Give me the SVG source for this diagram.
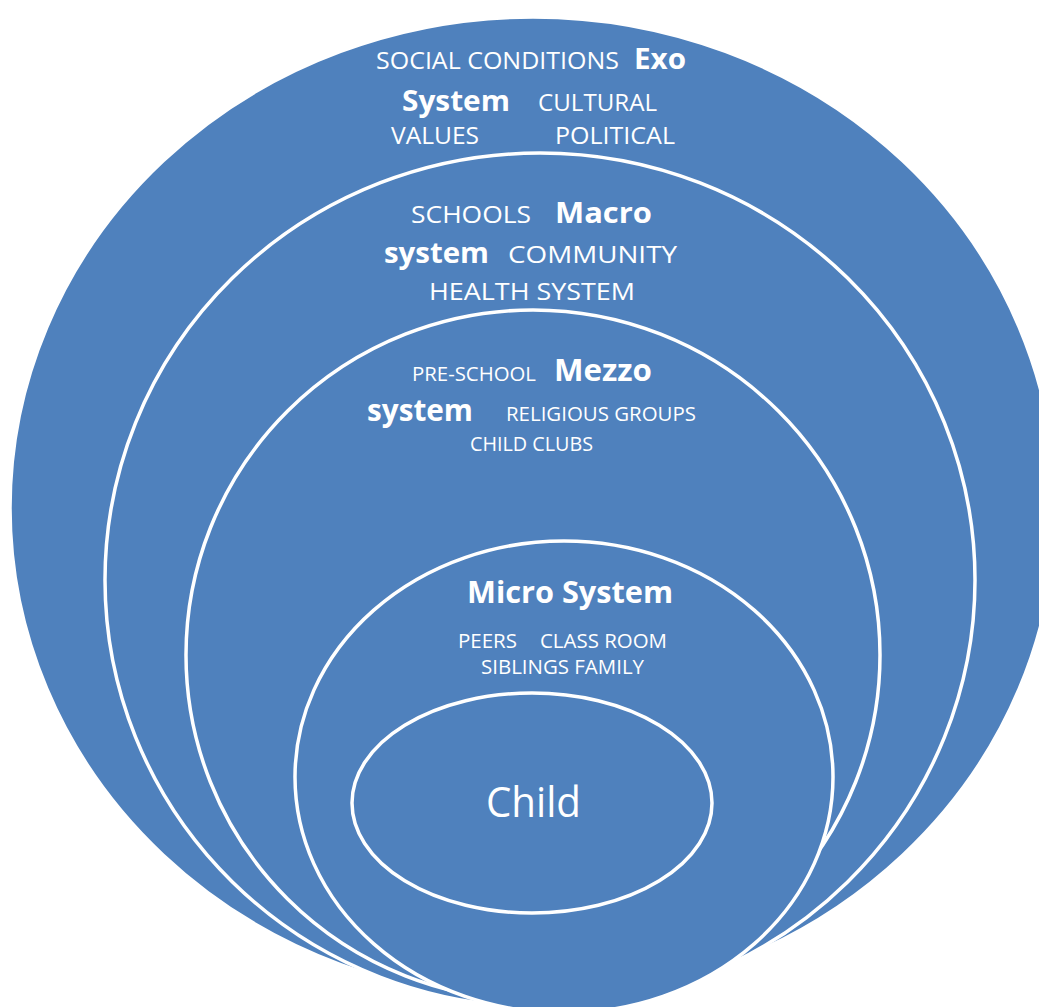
<svg xmlns="http://www.w3.org/2000/svg" width="1039" height="1007" viewBox="0 0 1039 1007">
<style>
.ring{fill:#4F81BD;stroke:#FFFFFF;stroke-width:3.5}
.t{font-family:"Open Sans","Noto Sans","DejaVu Sans",sans-serif;fill:#FFFFFF}
.r{font-weight:normal}
.b{font-weight:bold}
</style>
<rect width="1039" height="1007" fill="#FFFFFF"/>
<g id="exo">
<ellipse class="ring" cx="533" cy="508" rx="523" ry="491"/>
<text class="t r" x="376" y="69" font-size="24" textLength="243" lengthAdjust="spacingAndGlyphs">SOCIAL CONDITIONS</text>
<text class="t b" x="634" y="69" font-size="29" textLength="52" lengthAdjust="spacingAndGlyphs">Exo</text>
<text class="t b" x="402" y="111" font-size="29" textLength="108" lengthAdjust="spacingAndGlyphs">System</text>
<text class="t r" x="538" y="111" font-size="24" textLength="119" lengthAdjust="spacingAndGlyphs">CULTURAL</text>
<text class="t r" x="391" y="144" font-size="24" textLength="88" lengthAdjust="spacingAndGlyphs">VALUES</text>
<text class="t r" x="555" y="144" font-size="24" textLength="120" lengthAdjust="spacingAndGlyphs">POLITICAL</text>
</g>
<g id="macro">
<ellipse class="ring" cx="540" cy="580" rx="435" ry="427"/>
<text class="t r" x="411" y="223" font-size="24" textLength="120" lengthAdjust="spacingAndGlyphs">SCHOOLS</text>
<text class="t b" x="555" y="223" font-size="29" textLength="97" lengthAdjust="spacingAndGlyphs">Macro</text>
<text class="t b" x="384" y="263" font-size="29" textLength="105" lengthAdjust="spacingAndGlyphs">system</text>
<text class="t r" x="508" y="263" font-size="24" textLength="169" lengthAdjust="spacingAndGlyphs">COMMUNITY</text>
<text class="t r" x="429" y="300" font-size="24" textLength="206" lengthAdjust="spacingAndGlyphs">HEALTH SYSTEM</text>
</g>
<g id="mezzo">
<ellipse class="ring" cx="533" cy="655" rx="347" ry="345"/>
<text class="t r" x="412" y="381" font-size="20" textLength="124" lengthAdjust="spacingAndGlyphs">PRE-SCHOOL</text>
<text class="t b" x="554" y="381" font-size="30" textLength="98" lengthAdjust="spacingAndGlyphs">Mezzo</text>
<text class="t b" x="367" y="421" font-size="30" textLength="106" lengthAdjust="spacingAndGlyphs">system</text>
<text class="t r" x="506" y="421" font-size="20" textLength="190" lengthAdjust="spacingAndGlyphs">RELIGIOUS GROUPS</text>
<text class="t r" x="470" y="451" font-size="20" textLength="123" lengthAdjust="spacingAndGlyphs">CHILD CLUBS</text>
</g>
<g id="micro">
<ellipse class="ring" cx="564" cy="777" rx="269" ry="236"/>
<text class="t b" x="467" y="603" font-size="30" textLength="206" lengthAdjust="spacingAndGlyphs">Micro System</text>
<text class="t r" x="458" y="648" font-size="20" textLength="59" lengthAdjust="spacingAndGlyphs">PEERS</text>
<text class="t r" x="540" y="648" font-size="20" textLength="127" lengthAdjust="spacingAndGlyphs">CLASS ROOM</text>
<text class="t r" x="481" y="674" font-size="20" textLength="163" lengthAdjust="spacingAndGlyphs">SIBLINGS FAMILY</text>
</g>
<g id="child">
<ellipse class="ring" cx="532" cy="803" rx="180" ry="110"/>
<text class="t r" x="486" y="817" font-size="42" textLength="95" lengthAdjust="spacingAndGlyphs">Child</text>
</g>
<g id="connectors"/>
</svg>
